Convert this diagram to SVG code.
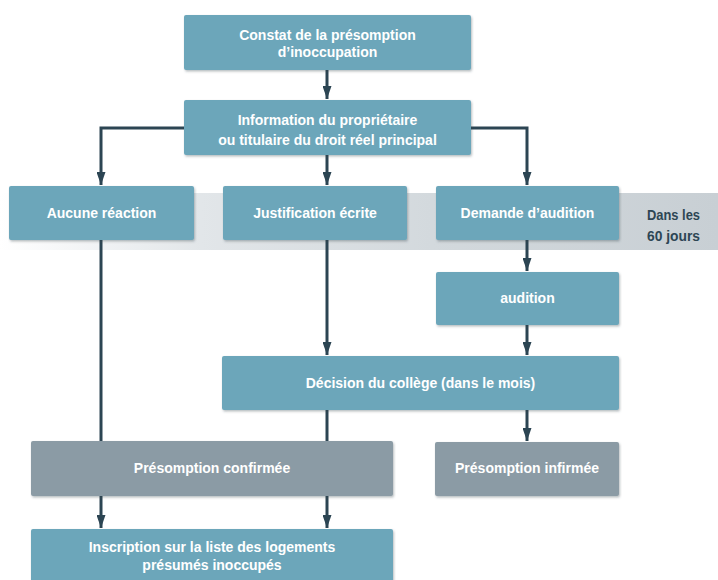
<svg xmlns="http://www.w3.org/2000/svg" width="718" height="580" viewBox="0 0 718 580">
  <style>
    .box { fill: #6ca6ba; filter: url(#sh); }
    .gbox { fill: #8b9ba5; filter: url(#sh); }
    .t { font-family: "Liberation Sans", Arial, sans-serif; font-weight: bold; font-size: 14px; fill: #ffffff; text-anchor: middle; }
    .note { font-family: "Liberation Sans", Arial, sans-serif; font-weight: bold; font-size: 15px; fill: #2d4654; }
    .c { fill: none; stroke: #2c4553; stroke-width: 3; }
  </style>
  <defs>
    <linearGradient id="band" x1="0" y1="0" x2="718" y2="0" gradientUnits="userSpaceOnUse">
      <stop offset="0" stop-color="#ffffff"/>
      <stop offset="0.28" stop-color="#e2e6e9"/>
      <stop offset="0.6" stop-color="#d3d9dd"/>
      <stop offset="1" stop-color="#c8cfd4"/>
    </linearGradient>
    <filter id="sh" x="-5%" y="-10%" width="110%" height="130%">
      <feDropShadow dx="1" dy="1.5" stdDeviation="1" flood-color="#33424a" flood-opacity="0.35"/>
    </filter>
    <marker id="ah" markerWidth="13" markerHeight="9" refX="13" refY="4.5" orient="auto" markerUnits="userSpaceOnUse">
      <path d="M0,0 L13,4.5 L0,9 Z" fill="#2c4553"/>
    </marker>
  </defs>

  <rect x="0" y="193" width="718" height="57" fill="url(#band)"/>
  <text class="note" x="647" y="220" textLength="53" lengthAdjust="spacingAndGlyphs">Dans les</text>
  <text class="note" x="647" y="241" textLength="53" lengthAdjust="spacingAndGlyphs">60 jours</text>

  <g id="connectors">
    <path class="c" d="M327,70 V99" marker-end="url(#ah)"/>
    <path class="c" d="M184,128 H101 V185" marker-end="url(#ah)"/>
    <path class="c" d="M327,155 V185" marker-end="url(#ah)"/>
    <path class="c" d="M471,128 H527 V185" marker-end="url(#ah)"/>
    <path class="c" d="M527,240 V271" marker-end="url(#ah)"/>
    <path class="c" d="M327,240 V355" marker-end="url(#ah)"/>
    <path class="c" d="M527,325 V355" marker-end="url(#ah)"/>
    <path class="c" d="M101,240 V441"/>
    <path class="c" d="M327,410 V441"/>
    <path class="c" d="M527,410 V441" marker-end="url(#ah)"/>
    <path class="c" d="M101,496 V528" marker-end="url(#ah)"/>
    <path class="c" d="M327,496 V528" marker-end="url(#ah)"/>
  </g>

  <g id="constat">
    <rect class="box" x="184" y="15" width="287" height="55" rx="2"/>
    <text class="t" x="327.5" y="40">Constat de la présomption</text>
    <text class="t" x="327.5" y="57">d’inoccupation</text>
  </g>
  <g id="information">
    <rect class="box" x="184" y="100" width="287" height="55" rx="2"/>
    <text class="t" x="327.5" y="125">Information du propriétaire</text>
    <text class="t" x="327.5" y="145">ou titulaire du droit réel principal</text>
  </g>
  <g id="aucune">
    <rect class="box" x="9" y="186" width="185" height="54" rx="2"/>
    <text class="t" x="101.5" y="218">Aucune réaction</text>
  </g>
  <g id="justification">
    <rect class="box" x="223" y="186" width="184" height="54" rx="2"/>
    <text class="t" x="315" y="218">Justification écrite</text>
  </g>
  <g id="demande">
    <rect class="box" x="436" y="186" width="183" height="54" rx="2"/>
    <text class="t" x="527.5" y="218">Demande d’audition</text>
  </g>
  <g id="audition">
    <rect class="box" x="436" y="272" width="183" height="53" rx="2"/>
    <text class="t" x="527.5" y="303">audition</text>
  </g>
  <g id="decision">
    <rect class="box" x="222" y="356" width="397" height="54" rx="2"/>
    <text class="t" x="420.5" y="388">Décision du collège (dans le mois)</text>
  </g>
  <g id="confirmee">
    <rect class="gbox" x="31" y="441" width="362" height="55" rx="2"/>
    <text class="t" x="212" y="473">Présomption confirmée</text>
  </g>
  <g id="infirmee">
    <rect class="gbox" x="435" y="442" width="184" height="54" rx="2"/>
    <text class="t" x="527" y="473">Présomption infirmée</text>
  </g>
  <g id="inscription">
    <rect class="box" x="31" y="529" width="362" height="60" rx="2"/>
    <text class="t" x="212" y="552">Inscription sur la liste des logements</text>
    <text class="t" x="212" y="570">présumés inoccupés</text>
  </g>
</svg>
